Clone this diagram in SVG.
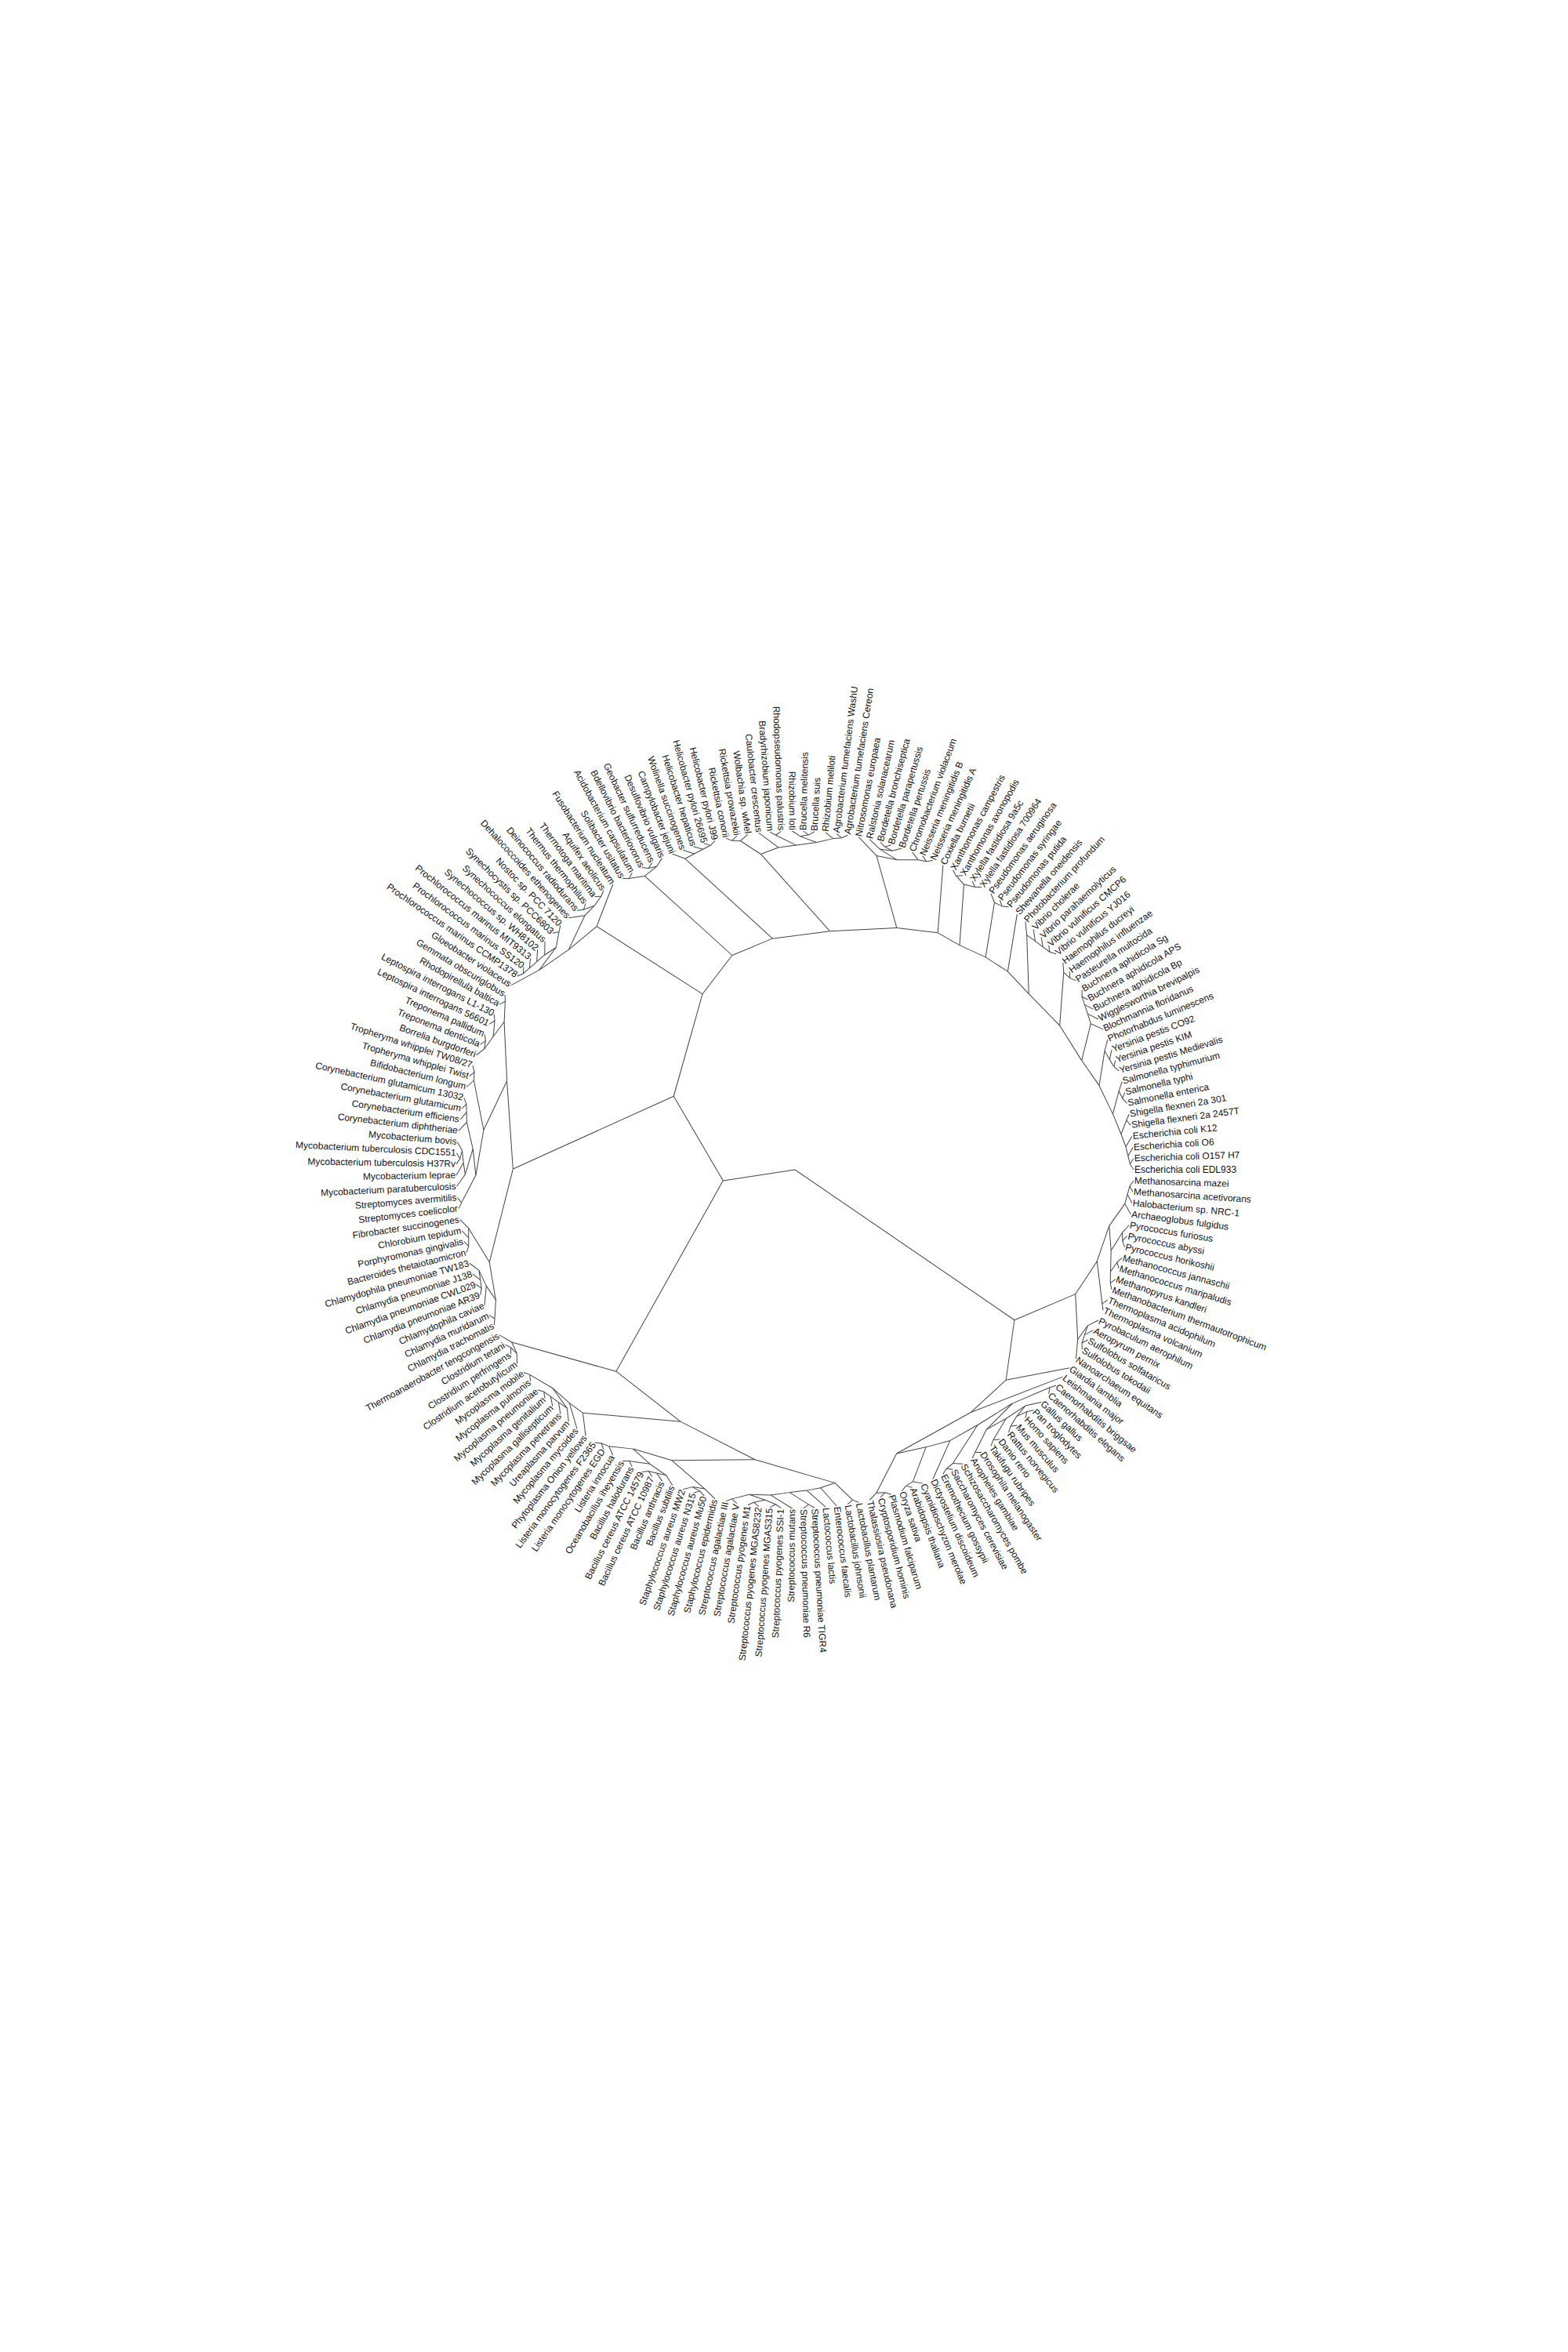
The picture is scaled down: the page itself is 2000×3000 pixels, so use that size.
<svg xmlns="http://www.w3.org/2000/svg" width="2000" height="3000" viewBox="0 0 2000 3000">
<style>
.l{font-family:"Liberation Sans",Arial,sans-serif;font-size:12px;fill:#111}
.e{text-anchor:end}
#links path{fill:none;stroke:#444;stroke-width:1}
</style>
<rect width="2000" height="3000" fill="#fff"/>
<g id="links" transform="translate(1014,1492)">
<path transform="rotate(1.885)" d="M432 0L427.4 7"/>
<path transform="rotate(3.770)" d="M432 0L427.4 -7"/>
<path transform="rotate(2.827)" d="M427.5 0L425.1 10.5"/>
<path transform="rotate(5.654)" d="M432 0L425.1 -10.5"/>
<path transform="rotate(4.241)" d="M425.2 0L422.8 12.2"/>
<path transform="rotate(7.539)" d="M432 0L422.8 -12.2"/>
<path transform="rotate(5.890)" d="M423 0L406 30.1"/>
<path transform="rotate(9.424)" d="M432 0L425.1 10.5"/>
<path transform="rotate(11.309)" d="M432 0L427.4 7"/>
<path transform="rotate(13.194)" d="M432 0L427.4 -7"/>
<path transform="rotate(12.251)" d="M427.5 0L425.1 -10.5"/>
<path transform="rotate(10.838)" d="M425.2 0L415.4 25.7"/>
<path transform="rotate(15.079)" d="M432 0L427.4 7"/>
<path transform="rotate(16.963)" d="M432 0L427.4 -7"/>
<path transform="rotate(18.848)" d="M432 0L427.4 7"/>
<path transform="rotate(20.733)" d="M432 0L427.4 -7"/>
<path transform="rotate(16.021)" d="M427.5 0L422.7 13.9"/>
<path transform="rotate(19.791)" d="M427.5 0L422.7 -13.9"/>
<path transform="rotate(17.906)" d="M423 0L415.4 -25.7"/>
<path transform="rotate(14.372)" d="M416.2 0L406 -30.1"/>
<path transform="rotate(10.131)" d="M407.1 0L399.8 47.1"/>
<path transform="rotate(22.618)" d="M432 0L427.4 7"/>
<path transform="rotate(24.503)" d="M432 0L427.4 -7"/>
<path transform="rotate(23.560)" d="M427.5 0L399.8 -47.1"/>
<path transform="rotate(16.846)" d="M402.6 0L388.3 48.2"/>
<path transform="rotate(30.157)" d="M432 0L427.4 7"/>
<path transform="rotate(32.042)" d="M432 0L427.4 -7"/>
<path transform="rotate(28.272)" d="M432 0L425.1 10.5"/>
<path transform="rotate(31.099)" d="M427.5 0L425.1 -10.5"/>
<path transform="rotate(26.387)" d="M432 0L422.8 12.2"/>
<path transform="rotate(29.686)" d="M425.2 0L422.8 -12.2"/>
<path transform="rotate(28.037)" d="M423 0L420.1 21.6"/>
<path transform="rotate(33.927)" d="M432 0L420.1 -21.6"/>
<path transform="rotate(30.982)" d="M420.7 0L388.3 -48.2"/>
<path transform="rotate(23.914)" d="M391.3 0L333.6 61.8"/>
<path transform="rotate(39.581)" d="M432 0L427.4 7"/>
<path transform="rotate(41.466)" d="M432 0L427.4 -7"/>
<path transform="rotate(45.236)" d="M432 0L427.4 7"/>
<path transform="rotate(47.120)" d="M432 0L427.4 -7"/>
<path transform="rotate(49.005)" d="M432 0L427.4 7"/>
<path transform="rotate(50.890)" d="M432 0L427.4 -7"/>
<path transform="rotate(46.178)" d="M427.5 0L422.7 13.9"/>
<path transform="rotate(49.948)" d="M427.5 0L422.7 -13.9"/>
<path transform="rotate(43.351)" d="M432 0L420.3 17.3"/>
<path transform="rotate(48.063)" d="M423 0L420.3 -17.3"/>
<path transform="rotate(52.775)" d="M432 0L427.4 7"/>
<path transform="rotate(54.660)" d="M432 0L427.4 -7"/>
<path transform="rotate(45.707)" d="M420.7 0L415.2 29.1"/>
<path transform="rotate(53.717)" d="M427.5 0L415.2 -29.1"/>
<path transform="rotate(56.545)" d="M432 0L427.4 7"/>
<path transform="rotate(58.429)" d="M432 0L427.4 -7"/>
<path transform="rotate(49.712)" d="M416.2 0L410.7 27.9"/>
<path transform="rotate(57.487)" d="M427.5 0L410.7 -27.9"/>
<path transform="rotate(40.524)" d="M427.5 0L404.5 46.4"/>
<path transform="rotate(53.600)" d="M411.6 0L404.5 -46.4"/>
<path transform="rotate(62.199)" d="M432 0L427.4 7"/>
<path transform="rotate(64.084)" d="M432 0L427.4 -7"/>
<path transform="rotate(60.314)" d="M432 0L425.1 10.5"/>
<path transform="rotate(63.141)" d="M427.5 0L425.1 -10.5"/>
<path transform="rotate(47.061)" d="M407.1 0L397.1 51.1"/>
<path transform="rotate(61.728)" d="M425.2 0L397.1 -51.1"/>
<path transform="rotate(54.394)" d="M400.3 0L396 40.1"/>
<path transform="rotate(65.969)" d="M432 0L396 -40.1"/>
<path transform="rotate(69.738)" d="M432 0L427.4 7"/>
<path transform="rotate(71.623)" d="M432 0L427.4 -7"/>
<path transform="rotate(67.853)" d="M432 0L425.1 10.5"/>
<path transform="rotate(70.681)" d="M427.5 0L425.1 -10.5"/>
<path transform="rotate(60.182)" d="M398.1 0L390.1 31"/>
<path transform="rotate(69.267)" d="M425.2 0L390.1 -31"/>
<path transform="rotate(73.508)" d="M432 0L427.4 7"/>
<path transform="rotate(75.393)" d="M432 0L427.4 -7"/>
<path transform="rotate(74.450)" d="M427.5 0L425.1 10.5"/>
<path transform="rotate(77.277)" d="M432 0L425.1 -10.5"/>
<path transform="rotate(64.724)" d="M391.3 0L382.7 37.3"/>
<path transform="rotate(75.864)" d="M425.2 0L382.7 -37.3"/>
<path transform="rotate(70.294)" d="M384.5 0L366.9 -107.3"/>
<path transform="rotate(37.696)" d="M432 0L366.9 107.3"/>
<path transform="rotate(53.996)" d="M382.2 0L375.2 -60.1"/>
<path transform="rotate(35.812)" d="M432 0L375.2 60.1"/>
<path transform="rotate(44.903)" d="M380 0L333.6 -61.8"/>
<path transform="rotate(34.409)" d="M339.3 0L0 0"/>
<path transform="rotate(79.162)" d="M432 0L427.4 7"/>
<path transform="rotate(81.047)" d="M432 0L427.4 -7"/>
<path transform="rotate(86.702)" d="M432 0L427.4 7"/>
<path transform="rotate(88.586)" d="M432 0L427.4 -7"/>
<path transform="rotate(92.356)" d="M432 0L427.4 7"/>
<path transform="rotate(94.241)" d="M432 0L427.4 -7"/>
<path transform="rotate(96.126)" d="M432 0L427.4 7"/>
<path transform="rotate(98.010)" d="M432 0L427.4 -7"/>
<path transform="rotate(99.895)" d="M432 0L427.4 7"/>
<path transform="rotate(101.780)" d="M432 0L427.4 -7"/>
<path transform="rotate(93.298)" d="M427.5 0L422.7 13.9"/>
<path transform="rotate(97.068)" d="M427.5 0L422.7 -13.9"/>
<path transform="rotate(95.183)" d="M423 0L417.9 20.6"/>
<path transform="rotate(100.838)" d="M427.5 0L417.9 -20.6"/>
<path transform="rotate(90.471)" d="M432 0L415.3 27.4"/>
<path transform="rotate(98.010)" d="M418.4 0L415.3 -27.4"/>
<path transform="rotate(87.644)" d="M427.5 0L411 23.7"/>
<path transform="rotate(94.241)" d="M416.2 0L411 -23.7"/>
<path transform="rotate(84.817)" d="M432 0L408.8 21.9"/>
<path transform="rotate(90.942)" d="M411.6 0L408.8 -21.9"/>
<path transform="rotate(82.932)" d="M432 0L406.7 17.6"/>
<path transform="rotate(87.880)" d="M409.4 0L406.7 -17.6"/>
<path transform="rotate(80.105)" d="M427.5 0L402.2 18.6"/>
<path transform="rotate(85.406)" d="M407.1 0L402.2 -18.6"/>
<path transform="rotate(105.550)" d="M432 0L427.4 7"/>
<path transform="rotate(107.435)" d="M432 0L427.4 -7"/>
<path transform="rotate(106.492)" d="M427.5 0L425.1 10.5"/>
<path transform="rotate(109.319)" d="M432 0L425.1 -10.5"/>
<path transform="rotate(103.665)" d="M432 0L422.7 15.7"/>
<path transform="rotate(107.906)" d="M425.2 0L422.7 -15.7"/>
<path transform="rotate(114.974)" d="M432 0L427.4 7"/>
<path transform="rotate(116.859)" d="M432 0L427.4 -7"/>
<path transform="rotate(113.089)" d="M432 0L425.1 10.5"/>
<path transform="rotate(115.916)" d="M427.5 0L425.1 -10.5"/>
<path transform="rotate(111.204)" d="M432 0L422.8 12.2"/>
<path transform="rotate(114.503)" d="M425.2 0L422.8 -12.2"/>
<path transform="rotate(118.743)" d="M432 0L427.4 7"/>
<path transform="rotate(120.628)" d="M432 0L427.4 -7"/>
<path transform="rotate(112.853)" d="M423 0L417.7 24.9"/>
<path transform="rotate(119.686)" d="M427.5 0L417.7 -24.9"/>
<path transform="rotate(124.398)" d="M432 0L427.4 7"/>
<path transform="rotate(126.283)" d="M432 0L427.4 -7"/>
<path transform="rotate(122.513)" d="M432 0L425.1 10.5"/>
<path transform="rotate(125.340)" d="M427.5 0L425.1 -10.5"/>
<path transform="rotate(116.270)" d="M418.4 0L410.7 27.5"/>
<path transform="rotate(123.927)" d="M425.2 0L410.7 -27.5"/>
<path transform="rotate(105.785)" d="M423 0L399.5 50.2"/>
<path transform="rotate(120.099)" d="M411.6 0L399.5 -50.2"/>
<path transform="rotate(82.756)" d="M402.6 0L360.3 97.2"/>
<path transform="rotate(112.942)" d="M402.6 0L360.3 -97.2"/>
<path transform="rotate(137.592)" d="M432 0L427.4 7"/>
<path transform="rotate(139.476)" d="M432 0L427.4 -7"/>
<path transform="rotate(135.707)" d="M432 0L425.1 10.5"/>
<path transform="rotate(138.534)" d="M427.5 0L425.1 -10.5"/>
<path transform="rotate(133.822)" d="M432 0L422.8 12.2"/>
<path transform="rotate(137.120)" d="M425.2 0L422.8 -12.2"/>
<path transform="rotate(131.937)" d="M432 0L420.5 13"/>
<path transform="rotate(135.471)" d="M423 0L420.5 -13"/>
<path transform="rotate(141.361)" d="M432 0L427.4 7"/>
<path transform="rotate(143.246)" d="M432 0L427.4 -7"/>
<path transform="rotate(133.704)" d="M420.7 0L415 31.2"/>
<path transform="rotate(142.304)" d="M427.5 0L415 -31.2"/>
<path transform="rotate(130.052)" d="M432 0L412.9 28.7"/>
<path transform="rotate(138.005)" d="M416.2 0L412.9 -28.7"/>
<path transform="rotate(128.168)" d="M432 0L411.1 21"/>
<path transform="rotate(134.028)" d="M413.9 0L411.1 -21"/>
<path transform="rotate(97.848)" d="M373.2 0L338.1 101"/>
<path transform="rotate(131.097)" d="M411.6 0L338.1 -101"/>
<path transform="rotate(147.016)" d="M432 0L427.4 7"/>
<path transform="rotate(148.901)" d="M432 0L427.4 -7"/>
<path transform="rotate(145.131)" d="M432 0L425.1 10.5"/>
<path transform="rotate(147.958)" d="M427.5 0L425.1 -10.5"/>
<path transform="rotate(146.544)" d="M425.2 0L422.7 15.7"/>
<path transform="rotate(150.785)" d="M432 0L422.7 -15.7"/>
<path transform="rotate(114.473)" d="M352.8 0L328.6 101.1"/>
<path transform="rotate(148.665)" d="M423 0L328.6 -101.1"/>
<path transform="rotate(131.569)" d="M343.8 0L71.2 59.4"/>
<path transform="rotate(171.388)" d="M92.7 0L0 0"/>
<path transform="rotate(158.325)" d="M432 0L427.4 7"/>
<path transform="rotate(160.209)" d="M432 0L427.4 -7"/>
<path transform="rotate(159.267)" d="M427.5 0L425.1 10.5"/>
<path transform="rotate(162.094)" d="M432 0L425.1 -10.5"/>
<path transform="rotate(160.681)" d="M425.2 0L422.8 12.2"/>
<path transform="rotate(163.979)" d="M432 0L422.8 -12.2"/>
<path transform="rotate(156.440)" d="M432 0L420.1 21.6"/>
<path transform="rotate(162.330)" d="M423 0L420.1 -21.6"/>
<path transform="rotate(152.670)" d="M432 0L427.4 7"/>
<path transform="rotate(154.555)" d="M432 0L427.4 -7"/>
<path transform="rotate(153.613)" d="M427.5 0L415.6 21"/>
<path transform="rotate(159.385)" d="M420.7 0L415.6 -21"/>
<path transform="rotate(165.864)" d="M432 0L427.4 7"/>
<path transform="rotate(167.749)" d="M432 0L427.4 -7"/>
<path transform="rotate(166.806)" d="M427.5 0L425.1 10.5"/>
<path transform="rotate(169.634)" d="M432 0L425.1 -10.5"/>
<path transform="rotate(168.220)" d="M425.2 0L422.8 12.2"/>
<path transform="rotate(171.518)" d="M432 0L422.8 -12.2"/>
<path transform="rotate(156.499)" d="M416.2 0L404.4 47.4"/>
<path transform="rotate(169.869)" d="M423 0L404.4 -47.4"/>
<path transform="rotate(173.403)" d="M432 0L427.4 7"/>
<path transform="rotate(175.288)" d="M432 0L427.4 -7"/>
<path transform="rotate(180.942)" d="M432 0L427.4 7"/>
<path transform="rotate(182.827)" d="M432 0L427.4 -7"/>
<path transform="rotate(181.885)" d="M427.5 0L425.1 10.5"/>
<path transform="rotate(184.712)" d="M432 0L425.1 -10.5"/>
<path transform="rotate(179.058)" d="M432 0L422.7 15.7"/>
<path transform="rotate(183.299)" d="M425.2 0L422.7 -15.7"/>
<path transform="rotate(177.173)" d="M432 0L420.4 14.7"/>
<path transform="rotate(181.177)" d="M423 0L420.4 -14.7"/>
<path transform="rotate(190.366)" d="M432 0L427.4 7"/>
<path transform="rotate(192.251)" d="M432 0L427.4 -7"/>
<path transform="rotate(188.482)" d="M432 0L425.1 10.5"/>
<path transform="rotate(191.309)" d="M427.5 0L425.1 -10.5"/>
<path transform="rotate(186.597)" d="M432 0L422.8 12.2"/>
<path transform="rotate(189.894)" d="M425.2 0L422.8 -12.2"/>
<path transform="rotate(179.176)" d="M420.7 0L410.4 32.6"/>
<path transform="rotate(188.247)" d="M423 0L410.4 -32.6"/>
<path transform="rotate(174.346)" d="M427.5 0L405.8 33.2"/>
<path transform="rotate(183.710)" d="M411.6 0L405.8 -33.2"/>
<path transform="rotate(196.021)" d="M432 0L427.4 7"/>
<path transform="rotate(197.906)" d="M432 0L427.4 -7"/>
<path transform="rotate(194.136)" d="M432 0L425.1 10.5"/>
<path transform="rotate(196.963)" d="M427.5 0L425.1 -10.5"/>
<path transform="rotate(179.028)" d="M407.1 0L396.2 57.5"/>
<path transform="rotate(195.550)" d="M425.2 0L396.2 -57.5"/>
<path transform="rotate(201.675)" d="M432 0L427.4 7"/>
<path transform="rotate(203.560)" d="M432 0L427.4 -7"/>
<path transform="rotate(199.791)" d="M432 0L425.1 10.5"/>
<path transform="rotate(202.618)" d="M427.5 0L425.1 -10.5"/>
<path transform="rotate(205.445)" d="M432 0L427.4 7"/>
<path transform="rotate(207.330)" d="M432 0L427.4 -7"/>
<path transform="rotate(201.204)" d="M425.2 0L420.3 19"/>
<path transform="rotate(206.387)" d="M427.5 0L420.3 -19"/>
<path transform="rotate(209.215)" d="M432 0L427.4 7"/>
<path transform="rotate(211.099)" d="M432 0L427.4 -7"/>
<path transform="rotate(203.796)" d="M420.7 0L415.5 23.1"/>
<path transform="rotate(210.157)" d="M427.5 0L415.5 -23.1"/>
<path transform="rotate(187.290)" d="M400.3 0L378.8 65.7"/>
<path transform="rotate(206.978)" d="M416.2 0L378.8 -65.7"/>
<path transform="rotate(163.184)" d="M407.1 0L344 105"/>
<path transform="rotate(197.132)" d="M384.5 0L344 -105"/>
<path transform="rotate(180.160)" d="M359.6 0L155 93.3"/>
<path transform="rotate(214.869)" d="M432 0L427.4 7"/>
<path transform="rotate(216.754)" d="M432 0L427.4 -7"/>
<path transform="rotate(215.812)" d="M427.5 0L425.1 10.5"/>
<path transform="rotate(218.639)" d="M432 0L425.1 -10.5"/>
<path transform="rotate(217.225)" d="M425.2 0L422.8 12.2"/>
<path transform="rotate(220.524)" d="M432 0L422.8 -12.2"/>
<path transform="rotate(218.875)" d="M423 0L420.5 13"/>
<path transform="rotate(222.408)" d="M432 0L420.5 -13"/>
<path transform="rotate(224.293)" d="M432 0L427.4 7"/>
<path transform="rotate(226.178)" d="M432 0L427.4 -7"/>
<path transform="rotate(220.642)" d="M420.7 0L415.8 16.7"/>
<path transform="rotate(225.235)" d="M427.5 0L415.8 -16.7"/>
<path transform="rotate(212.984)" d="M432 0L412.4 35.9"/>
<path transform="rotate(222.938)" d="M416.2 0L412.4 -35.9"/>
<path transform="rotate(229.948)" d="M432 0L427.4 7"/>
<path transform="rotate(231.832)" d="M432 0L427.4 -7"/>
<path transform="rotate(233.717)" d="M432 0L427.4 7"/>
<path transform="rotate(235.602)" d="M432 0L427.4 -7"/>
<path transform="rotate(230.890)" d="M427.5 0L422.7 13.9"/>
<path transform="rotate(234.660)" d="M427.5 0L422.7 -13.9"/>
<path transform="rotate(228.063)" d="M432 0L420.3 17.3"/>
<path transform="rotate(232.775)" d="M423 0L420.3 -17.3"/>
<path transform="rotate(217.961)" d="M413.9 0L400.2 43.7"/>
<path transform="rotate(230.419)" d="M420.7 0L400.2 -43.7"/>
<path transform="rotate(224.190)" d="M402.6 0L397.7 46.4"/>
<path transform="rotate(237.487)" d="M432 0L397.7 -46.4"/>
<path transform="rotate(239.372)" d="M432 0L427.4 7"/>
<path transform="rotate(241.257)" d="M432 0L427.4 -7"/>
<path transform="rotate(243.141)" d="M432 0L427.4 7"/>
<path transform="rotate(245.026)" d="M432 0L427.4 -7"/>
<path transform="rotate(244.084)" d="M427.5 0L425.1 10.5"/>
<path transform="rotate(246.911)" d="M432 0L425.1 -10.5"/>
<path transform="rotate(240.314)" d="M427.5 0L420.3 19"/>
<path transform="rotate(245.497)" d="M425.2 0L420.3 -19"/>
<path transform="rotate(254.450)" d="M432 0L427.4 7"/>
<path transform="rotate(256.335)" d="M432 0L427.4 -7"/>
<path transform="rotate(252.565)" d="M432 0L425.1 10.5"/>
<path transform="rotate(255.393)" d="M427.5 0L425.1 -10.5"/>
<path transform="rotate(250.681)" d="M432 0L422.8 12.2"/>
<path transform="rotate(253.979)" d="M425.2 0L422.8 -12.2"/>
<path transform="rotate(248.796)" d="M432 0L420.5 13"/>
<path transform="rotate(252.330)" d="M423 0L420.5 -13"/>
<path transform="rotate(258.220)" d="M432 0L427.4 7"/>
<path transform="rotate(260.105)" d="M432 0L427.4 -7"/>
<path transform="rotate(259.162)" d="M427.5 0L425.1 10.5"/>
<path transform="rotate(261.990)" d="M432 0L425.1 -10.5"/>
<path transform="rotate(265.759)" d="M432 0L427.4 7"/>
<path transform="rotate(267.644)" d="M432 0L427.4 -7"/>
<path transform="rotate(271.414)" d="M432 0L427.4 7"/>
<path transform="rotate(273.298)" d="M432 0L427.4 -7"/>
<path transform="rotate(269.529)" d="M432 0L425.1 10.5"/>
<path transform="rotate(272.356)" d="M427.5 0L425.1 -10.5"/>
<path transform="rotate(277.068)" d="M432 0L427.4 7"/>
<path transform="rotate(278.953)" d="M432 0L427.4 -7"/>
<path transform="rotate(275.183)" d="M432 0L425.1 10.5"/>
<path transform="rotate(278.010)" d="M427.5 0L425.1 -10.5"/>
<path transform="rotate(270.942)" d="M425.2 0L417.9 20.6"/>
<path transform="rotate(276.597)" d="M425.2 0L417.9 -20.6"/>
<path transform="rotate(266.701)" d="M427.5 0L413.1 25.5"/>
<path transform="rotate(273.770)" d="M418.4 0L413.1 -25.5"/>
<path transform="rotate(263.874)" d="M432 0L411 22.8"/>
<path transform="rotate(270.236)" d="M413.9 0L411 -22.8"/>
<path transform="rotate(260.576)" d="M425.2 0L404.2 22.9"/>
<path transform="rotate(267.054)" d="M411.6 0L404.2 -22.9"/>
<path transform="rotate(284.607)" d="M432 0L427.4 7"/>
<path transform="rotate(286.492)" d="M432 0L427.4 -7"/>
<path transform="rotate(285.550)" d="M427.5 0L425.1 10.5"/>
<path transform="rotate(288.377)" d="M432 0L425.1 -10.5"/>
<path transform="rotate(282.723)" d="M432 0L422.7 15.7"/>
<path transform="rotate(286.963)" d="M425.2 0L422.7 -15.7"/>
<path transform="rotate(292.147)" d="M432 0L427.4 7"/>
<path transform="rotate(294.031)" d="M432 0L427.4 -7"/>
<path transform="rotate(290.262)" d="M432 0L425.1 10.5"/>
<path transform="rotate(293.089)" d="M427.5 0L425.1 -10.5"/>
<path transform="rotate(284.843)" d="M423 0L415.4 24.8"/>
<path transform="rotate(291.675)" d="M425.2 0L415.4 -24.8"/>
<path transform="rotate(280.838)" d="M432 0L413 26.8"/>
<path transform="rotate(288.259)" d="M416.2 0L413 -26.8"/>
<path transform="rotate(358.115)" d="M432 0L427.4 7"/>
<path d="M432 0L427.4 -7"/>
<path transform="rotate(356.230)" d="M432 0L425.1 10.5"/>
<path transform="rotate(359.058)" d="M427.5 0L425.1 -10.5"/>
<path transform="rotate(354.346)" d="M432 0L422.8 12.2"/>
<path transform="rotate(357.644)" d="M425.2 0L422.8 -12.2"/>
<path transform="rotate(350.576)" d="M432 0L427.4 7"/>
<path transform="rotate(352.461)" d="M432 0L427.4 -7"/>
<path transform="rotate(351.518)" d="M427.5 0L418.1 16.3"/>
<path transform="rotate(355.995)" d="M423 0L418.1 -16.3"/>
<path transform="rotate(346.806)" d="M432 0L427.4 7"/>
<path transform="rotate(348.691)" d="M432 0L427.4 -7"/>
<path transform="rotate(344.921)" d="M432 0L425.1 10.5"/>
<path transform="rotate(347.749)" d="M427.5 0L425.1 -10.5"/>
<path transform="rotate(346.335)" d="M425.2 0L410.8 26.6"/>
<path transform="rotate(353.757)" d="M418.4 0L410.8 -26.6"/>
<path transform="rotate(341.152)" d="M432 0L427.4 7"/>
<path transform="rotate(343.037)" d="M432 0L427.4 -7"/>
<path transform="rotate(339.267)" d="M432 0L425.1 10.5"/>
<path transform="rotate(342.094)" d="M427.5 0L425.1 -10.5"/>
<path transform="rotate(337.382)" d="M432 0L422.8 12.2"/>
<path transform="rotate(340.681)" d="M425.2 0L422.8 -12.2"/>
<path transform="rotate(339.031)" d="M423 0L400.7 38.6"/>
<path transform="rotate(350.046)" d="M411.6 0L400.7 -38.6"/>
<path transform="rotate(327.958)" d="M432 0L427.4 7"/>
<path transform="rotate(329.843)" d="M432 0L427.4 -7"/>
<path transform="rotate(328.901)" d="M427.5 0L425.1 10.5"/>
<path transform="rotate(331.728)" d="M432 0L425.1 -10.5"/>
<path transform="rotate(330.314)" d="M425.2 0L422.8 12.2"/>
<path transform="rotate(333.613)" d="M432 0L422.8 -12.2"/>
<path transform="rotate(331.963)" d="M423 0L420.5 13"/>
<path transform="rotate(335.497)" d="M432 0L420.5 -13"/>
<path transform="rotate(333.731)" d="M420.7 0L389.6 36.9"/>
<path transform="rotate(344.536)" d="M402.6 0L389.6 -36.9"/>
<path transform="rotate(324.188)" d="M432 0L427.4 7"/>
<path transform="rotate(326.073)" d="M432 0L427.4 -7"/>
<path transform="rotate(322.304)" d="M432 0L425.1 10.5"/>
<path transform="rotate(325.131)" d="M427.5 0L425.1 -10.5"/>
<path transform="rotate(323.717)" d="M425.2 0L381 51.6"/>
<path transform="rotate(339.134)" d="M391.3 0L381 -51.6"/>
<path transform="rotate(318.534)" d="M432 0L427.4 7"/>
<path transform="rotate(320.419)" d="M432 0L427.4 -7"/>
<path transform="rotate(316.649)" d="M432 0L425.1 10.5"/>
<path transform="rotate(319.476)" d="M427.5 0L425.1 -10.5"/>
<path transform="rotate(314.764)" d="M432 0L422.8 12.2"/>
<path transform="rotate(318.063)" d="M425.2 0L422.8 -12.2"/>
<path transform="rotate(312.880)" d="M432 0L420.5 13"/>
<path transform="rotate(316.414)" d="M423 0L420.5 -13"/>
<path transform="rotate(314.647)" d="M420.7 0L369.2 54.5"/>
<path transform="rotate(331.426)" d="M384.5 0L369.2 -54.5"/>
<path transform="rotate(310.995)" d="M432 0L368.9 38.9"/>
<path transform="rotate(323.036)" d="M373.2 0L368.9 -38.9"/>
<path transform="rotate(307.225)" d="M432 0L427.4 7"/>
<path transform="rotate(309.110)" d="M432 0L427.4 -7"/>
<path transform="rotate(305.340)" d="M432 0L425.1 10.5"/>
<path transform="rotate(308.167)" d="M427.5 0L425.1 -10.5"/>
<path transform="rotate(306.754)" d="M425.2 0L362.7 32.6"/>
<path transform="rotate(317.016)" d="M370.9 0L362.7 -32.6"/>
<path transform="rotate(297.801)" d="M432 0L427.4 7"/>
<path transform="rotate(299.686)" d="M432 0L427.4 -7"/>
<path transform="rotate(301.571)" d="M432 0L427.4 7"/>
<path transform="rotate(303.455)" d="M432 0L427.4 -7"/>
<path transform="rotate(298.743)" d="M427.5 0L422.7 13.9"/>
<path transform="rotate(302.513)" d="M427.5 0L422.7 -13.9"/>
<path transform="rotate(300.628)" d="M423 0L353.4 34.8"/>
<path transform="rotate(311.884)" d="M364.2 0L353.4 -34.8"/>
<path transform="rotate(295.916)" d="M432 0L351.4 31.8"/>
<path transform="rotate(306.256)" d="M355.1 0L351.4 -31.8"/>
<path transform="rotate(284.549)" d="M413.9 0L331.3 48.1"/>
<path transform="rotate(301.087)" d="M352.8 0L331.3 -48.1"/>
<path transform="rotate(263.815)" d="M404.9 0L297.8 77"/>
<path transform="rotate(292.818)" d="M334.7 0L297.8 -77"/>
<path transform="rotate(250.563)" d="M420.7 0L287.6 71.1"/>
<path transform="rotate(278.316)" d="M307.6 0L287.6 -71.1"/>
<path transform="rotate(242.906)" d="M420.7 0L280 53.2"/>
<path transform="rotate(264.440)" d="M296.3 0L280 -53.2"/>
<path transform="rotate(230.838)" d="M400.3 0L248.3 50.1"/>
<path transform="rotate(253.673)" d="M285 0L248.3 -50.1"/>
<path transform="rotate(242.256)" d="M253.3 0L155 -93.3"/>
<path transform="rotate(211.207)" d="M180.9 0L71.2 -59.4"/>
</g>
<g id="labels" transform="translate(1014,1492)">
<g id="n1"><text class="l" dy="0.3em" transform="rotate(1.885) translate(433)">Methanosarcina mazei</text></g>
<g id="n2"><text class="l" dy="0.3em" transform="rotate(3.770) translate(433)">Methanosarcina acetivorans</text></g>
<g id="n3"><text class="l" dy="0.3em" transform="rotate(5.654) translate(433)">Halobacterium sp. NRC-1</text></g>
<g id="n4"><text class="l" dy="0.3em" transform="rotate(7.539) translate(433)">Archaeoglobus fulgidus</text></g>
<g id="n5"><text class="l" dy="0.3em" transform="rotate(9.424) translate(433)">Pyrococcus furiosus</text></g>
<g id="n6"><text class="l" dy="0.3em" transform="rotate(11.309) translate(433)">Pyrococcus abyssi</text></g>
<g id="n7"><text class="l" dy="0.3em" transform="rotate(13.194) translate(433)">Pyrococcus horikoshii</text></g>
<g id="n8"><text class="l" dy="0.3em" transform="rotate(15.079) translate(433)">Methanococcus jannaschii</text></g>
<g id="n9"><text class="l" dy="0.3em" transform="rotate(16.963) translate(433)">Methanococcus maripaludis</text></g>
<g id="n10"><text class="l" dy="0.3em" transform="rotate(18.848) translate(433)">Methanopyrus kandleri</text></g>
<g id="n11"><text class="l" dy="0.3em" transform="rotate(20.733) translate(433)">Methanobacterium thermautotrophicum</text></g>
<g id="n12"><text class="l" dy="0.3em" transform="rotate(22.618) translate(433)">Thermoplasma acidophilum</text></g>
<g id="n13"><text class="l" dy="0.3em" transform="rotate(24.503) translate(433)">Thermoplasma volcanium</text></g>
<g id="n14"><text class="l" dy="0.3em" transform="rotate(26.387) translate(433)">Pyrobaculum aerophilum</text></g>
<g id="n15"><text class="l" dy="0.3em" transform="rotate(28.272) translate(433)">Aeropyrum pernix</text></g>
<g id="n16"><text class="l" dy="0.3em" transform="rotate(30.157) translate(433)">Sulfolobus solfataricus</text></g>
<g id="n17"><text class="l" dy="0.3em" transform="rotate(32.042) translate(433)">Sulfolobus tokodaii</text></g>
<g id="n18"><text class="l" dy="0.3em" transform="rotate(33.927) translate(433)">Nanoarchaeum equitans</text></g>
<g id="n19"><text class="l" dy="0.3em" transform="rotate(35.812) translate(433)">Giardia lamblia</text></g>
<g id="n20"><text class="l" dy="0.3em" transform="rotate(37.696) translate(433)">Leishmania major</text></g>
<g id="n21"><text class="l" dy="0.3em" transform="rotate(39.581) translate(433)">Caenorhabditis briggsae</text></g>
<g id="n22"><text class="l" dy="0.3em" transform="rotate(41.466) translate(433)">Caenorhabditis elegans</text></g>
<g id="n23"><text class="l" dy="0.3em" transform="rotate(43.351) translate(433)">Gallus gallus</text></g>
<g id="n24"><text class="l" dy="0.3em" transform="rotate(45.236) translate(433)">Pan troglodytes</text></g>
<g id="n25"><text class="l" dy="0.3em" transform="rotate(47.120) translate(433)">Homo sapiens</text></g>
<g id="n26"><text class="l" dy="0.3em" transform="rotate(49.005) translate(433)">Mus musculus</text></g>
<g id="n27"><text class="l" dy="0.3em" transform="rotate(50.890) translate(433)">Rattus norvegicus</text></g>
<g id="n28"><text class="l" dy="0.3em" transform="rotate(52.775) translate(433)">Danio rerio</text></g>
<g id="n29"><text class="l" dy="0.3em" transform="rotate(54.660) translate(433)">Takifugu rubripes</text></g>
<g id="n30"><text class="l" dy="0.3em" transform="rotate(56.545) translate(433)">Drosophila melanogaster</text></g>
<g id="n31"><text class="l" dy="0.3em" transform="rotate(58.429) translate(433)">Anopheles gambiae</text></g>
<g id="n32"><text class="l" dy="0.3em" transform="rotate(60.314) translate(433)">Schizosaccharomyces pombe</text></g>
<g id="n33"><text class="l" dy="0.3em" transform="rotate(62.199) translate(433)">Saccharomyces cerevisiae</text></g>
<g id="n34"><text class="l" dy="0.3em" transform="rotate(64.084) translate(433)">Eremothecium gossypii</text></g>
<g id="n35"><text class="l" dy="0.3em" transform="rotate(65.969) translate(433)">Dictyostelium discoideum</text></g>
<g id="n36"><text class="l" dy="0.3em" transform="rotate(67.853) translate(433)">Cyanidioschyzon merolae</text></g>
<g id="n37"><text class="l" dy="0.3em" transform="rotate(69.738) translate(433)">Arabidopsis thaliana</text></g>
<g id="n38"><text class="l" dy="0.3em" transform="rotate(71.623) translate(433)">Oryza sativa</text></g>
<g id="n39"><text class="l" dy="0.3em" transform="rotate(73.508) translate(433)">Plasmodium falciparum</text></g>
<g id="n40"><text class="l" dy="0.3em" transform="rotate(75.393) translate(433)">Cryptosporidium hominis</text></g>
<g id="n41"><text class="l" dy="0.3em" transform="rotate(77.277) translate(433)">Thalassiosira pseudonana</text></g>
<g id="n42"><text class="l" dy="0.3em" transform="rotate(79.162) translate(433)">Lactobacillus plantarum</text></g>
<g id="n43"><text class="l" dy="0.3em" transform="rotate(81.047) translate(433)">Lactobacillus johnsonii</text></g>
<g id="n44"><text class="l" dy="0.3em" transform="rotate(82.932) translate(433)">Enterococcus faecalis</text></g>
<g id="n45"><text class="l" dy="0.3em" transform="rotate(84.817) translate(433)">Lactococcus lactis</text></g>
<g id="n46"><text class="l" dy="0.3em" transform="rotate(86.702) translate(433)">Streptococcus pneumoniae TIGR4</text></g>
<g id="n47"><text class="l" dy="0.3em" transform="rotate(88.586) translate(433)">Streptococcus pneumoniae R6</text></g>
<g id="n48"><text class="l e" dy="0.3em" transform="rotate(-89.529) translate(-433)">Streptococcus mutans</text></g>
<g id="n49"><text class="l e" dy="0.3em" transform="rotate(-87.644) translate(-433)">Streptococcus pyogenes SSI-1</text></g>
<g id="n50"><text class="l e" dy="0.3em" transform="rotate(-85.759) translate(-433)">Streptococcus pyogenes MGAS315</text></g>
<g id="n51"><text class="l e" dy="0.3em" transform="rotate(-83.874) translate(-433)">Streptococcus pyogenes MGAS8232</text></g>
<g id="n52"><text class="l e" dy="0.3em" transform="rotate(-81.990) translate(-433)">Streptococcus pyogenes M1</text></g>
<g id="n53"><text class="l e" dy="0.3em" transform="rotate(-80.105) translate(-433)">Streptococcus agalactiae V</text></g>
<g id="n54"><text class="l e" dy="0.3em" transform="rotate(-78.220) translate(-433)">Streptococcus agalactiae III</text></g>
<g id="n55"><text class="l e" dy="0.3em" transform="rotate(-76.335) translate(-433)">Staphylococcus epidermidis</text></g>
<g id="n56"><text class="l e" dy="0.3em" transform="rotate(-74.450) translate(-433)">Staphylococcus aureus Mu50</text></g>
<g id="n57"><text class="l e" dy="0.3em" transform="rotate(-72.565) translate(-433)">Staphylococcus aureus N315</text></g>
<g id="n58"><text class="l e" dy="0.3em" transform="rotate(-70.681) translate(-433)">Staphylococcus aureus MW2</text></g>
<g id="n59"><text class="l e" dy="0.3em" transform="rotate(-68.796) translate(-433)">Bacillus subtilis</text></g>
<g id="n60"><text class="l e" dy="0.3em" transform="rotate(-66.911) translate(-433)">Bacillus anthracis</text></g>
<g id="n61"><text class="l e" dy="0.3em" transform="rotate(-65.026) translate(-433)">Bacillus cereus ATCC 10987</text></g>
<g id="n62"><text class="l e" dy="0.3em" transform="rotate(-63.141) translate(-433)">Bacillus cereus ATCC 14579</text></g>
<g id="n63"><text class="l e" dy="0.3em" transform="rotate(-61.257) translate(-433)">Bacillus halodurans</text></g>
<g id="n64"><text class="l e" dy="0.3em" transform="rotate(-59.372) translate(-433)">Oceanobacillus iheyensis</text></g>
<g id="n65"><text class="l e" dy="0.3em" transform="rotate(-57.487) translate(-433)">Listeria innocua</text></g>
<g id="n66"><text class="l e" dy="0.3em" transform="rotate(-55.602) translate(-433)">Listeria monocytogenes EGD</text></g>
<g id="n67"><text class="l e" dy="0.3em" transform="rotate(-53.717) translate(-433)">Listeria monocytogenes F2365</text></g>
<g id="n68"><text class="l e" dy="0.3em" transform="rotate(-51.832) translate(-433)">Phytoplasma Onion yellows</text></g>
<g id="n69"><text class="l e" dy="0.3em" transform="rotate(-49.948) translate(-433)">Mycoplasma mycoides</text></g>
<g id="n70"><text class="l e" dy="0.3em" transform="rotate(-48.063) translate(-433)">Ureaplasma parvum</text></g>
<g id="n71"><text class="l e" dy="0.3em" transform="rotate(-46.178) translate(-433)">Mycoplasma penetrans</text></g>
<g id="n72"><text class="l e" dy="0.3em" transform="rotate(-44.293) translate(-433)">Mycoplasma gallisepticum</text></g>
<g id="n73"><text class="l e" dy="0.3em" transform="rotate(-42.408) translate(-433)">Mycoplasma genitalium</text></g>
<g id="n74"><text class="l e" dy="0.3em" transform="rotate(-40.524) translate(-433)">Mycoplasma pneumoniae</text></g>
<g id="n75"><text class="l e" dy="0.3em" transform="rotate(-38.639) translate(-433)">Mycoplasma pulmonis</text></g>
<g id="n76"><text class="l e" dy="0.3em" transform="rotate(-36.754) translate(-433)">Mycoplasma mobile</text></g>
<g id="n77"><text class="l e" dy="0.3em" transform="rotate(-34.869) translate(-433)">Clostridium acetobutylicum</text></g>
<g id="n78"><text class="l e" dy="0.3em" transform="rotate(-32.984) translate(-433)">Clostridium perfringens</text></g>
<g id="n79"><text class="l e" dy="0.3em" transform="rotate(-31.099) translate(-433)">Clostridium tetani</text></g>
<g id="n80"><text class="l e" dy="0.3em" transform="rotate(-29.215) translate(-433)">Thermoanaerobacter tengcongensis</text></g>
<g id="n81"><text class="l e" dy="0.3em" transform="rotate(-27.330) translate(-433)">Chlamydia trachomatis</text></g>
<g id="n82"><text class="l e" dy="0.3em" transform="rotate(-25.445) translate(-433)">Chlamydia muridarum</text></g>
<g id="n83"><text class="l e" dy="0.3em" transform="rotate(-23.560) translate(-433)">Chlamydophila caviae</text></g>
<g id="n84"><text class="l e" dy="0.3em" transform="rotate(-21.675) translate(-433)">Chlamydia pneumoniae AR39</text></g>
<g id="n85"><text class="l e" dy="0.3em" transform="rotate(-19.791) translate(-433)">Chlamydia pneumoniae CWL029</text></g>
<g id="n86"><text class="l e" dy="0.3em" transform="rotate(-17.906) translate(-433)">Chlamydia pneumoniae J138</text></g>
<g id="n87"><text class="l e" dy="0.3em" transform="rotate(-16.021) translate(-433)">Chlamydophila pneumoniae TW183</text></g>
<g id="n88"><text class="l e" dy="0.3em" transform="rotate(-14.136) translate(-433)">Bacteroides thetaiotaomicron</text></g>
<g id="n89"><text class="l e" dy="0.3em" transform="rotate(-12.251) translate(-433)">Porphyromonas gingivalis</text></g>
<g id="n90"><text class="l e" dy="0.3em" transform="rotate(-10.366) translate(-433)">Chlorobium tepidum</text></g>
<g id="n91"><text class="l e" dy="0.3em" transform="rotate(-8.482) translate(-433)">Fibrobacter succinogenes</text></g>
<g id="n92"><text class="l e" dy="0.3em" transform="rotate(-6.597) translate(-433)">Streptomyces coelicolor</text></g>
<g id="n93"><text class="l e" dy="0.3em" transform="rotate(-4.712) translate(-433)">Streptomyces avermitilis</text></g>
<g id="n94"><text class="l e" dy="0.3em" transform="rotate(-2.827) translate(-433)">Mycobacterium paratuberculosis</text></g>
<g id="n95"><text class="l e" dy="0.3em" transform="rotate(-0.942) translate(-433)">Mycobacterium leprae</text></g>
<g id="n96"><text class="l e" dy="0.3em" transform="rotate(0.942) translate(-433)">Mycobacterium tuberculosis H37Rv</text></g>
<g id="n97"><text class="l e" dy="0.3em" transform="rotate(2.827) translate(-433)">Mycobacterium tuberculosis CDC1551</text></g>
<g id="n98"><text class="l e" dy="0.3em" transform="rotate(4.712) translate(-433)">Mycobacterium bovis</text></g>
<g id="n99"><text class="l e" dy="0.3em" transform="rotate(6.597) translate(-433)">Corynebacterium diphtheriae</text></g>
<g id="n100"><text class="l e" dy="0.3em" transform="rotate(8.482) translate(-433)">Corynebacterium efficiens</text></g>
<g id="n101"><text class="l e" dy="0.3em" transform="rotate(10.366) translate(-433)">Corynebacterium glutamicum</text></g>
<g id="n102"><text class="l e" dy="0.3em" transform="rotate(12.251) translate(-433)">Corynebacterium glutamicum 13032</text></g>
<g id="n103"><text class="l e" dy="0.3em" transform="rotate(14.136) translate(-433)">Bifidobacterium longum</text></g>
<g id="n104"><text class="l e" dy="0.3em" transform="rotate(16.021) translate(-433)">Tropheryma whipplei Twist</text></g>
<g id="n105"><text class="l e" dy="0.3em" transform="rotate(17.906) translate(-433)">Tropheryma whipplei TW08/27</text></g>
<g id="n106"><text class="l e" dy="0.3em" transform="rotate(19.791) translate(-433)">Borrelia burgdorferi</text></g>
<g id="n107"><text class="l e" dy="0.3em" transform="rotate(21.675) translate(-433)">Treponema denticola</text></g>
<g id="n108"><text class="l e" dy="0.3em" transform="rotate(23.560) translate(-433)">Treponema pallidum</text></g>
<g id="n109"><text class="l e" dy="0.3em" transform="rotate(25.445) translate(-433)">Leptospira interrogans 56601</text></g>
<g id="n110"><text class="l e" dy="0.3em" transform="rotate(27.330) translate(-433)">Leptospira interrogans L1-130</text></g>
<g id="n111"><text class="l e" dy="0.3em" transform="rotate(29.215) translate(-433)">Rhodopirellula baltica</text></g>
<g id="n112"><text class="l e" dy="0.3em" transform="rotate(31.099) translate(-433)">Gemmata obscuriglobus</text></g>
<g id="n113"><text class="l e" dy="0.3em" transform="rotate(32.984) translate(-433)">Gloeobacter violaceus</text></g>
<g id="n114"><text class="l e" dy="0.3em" transform="rotate(34.869) translate(-433)">Prochlorococcus marinus CCMP1378</text></g>
<g id="n115"><text class="l e" dy="0.3em" transform="rotate(36.754) translate(-433)">Prochlorococcus marinus SS120</text></g>
<g id="n116"><text class="l e" dy="0.3em" transform="rotate(38.639) translate(-433)">Prochlorococcus marinus MIT9313</text></g>
<g id="n117"><text class="l e" dy="0.3em" transform="rotate(40.524) translate(-433)">Synechococcus sp. WH8102</text></g>
<g id="n118"><text class="l e" dy="0.3em" transform="rotate(42.408) translate(-433)">Synechococcus elongatus</text></g>
<g id="n119"><text class="l e" dy="0.3em" transform="rotate(44.293) translate(-433)">Synechocystis sp. PCC6803</text></g>
<g id="n120"><text class="l e" dy="0.3em" transform="rotate(46.178) translate(-433)">Nostoc sp. PCC 7120</text></g>
<g id="n121"><text class="l e" dy="0.3em" transform="rotate(48.063) translate(-433)">Dehalococcoides ethenogenes</text></g>
<g id="n122"><text class="l e" dy="0.3em" transform="rotate(49.948) translate(-433)">Deinococcus radiodurans</text></g>
<g id="n123"><text class="l e" dy="0.3em" transform="rotate(51.832) translate(-433)">Thermus thermophilus</text></g>
<g id="n124"><text class="l e" dy="0.3em" transform="rotate(53.717) translate(-433)">Thermotoga maritima</text></g>
<g id="n125"><text class="l e" dy="0.3em" transform="rotate(55.602) translate(-433)">Aquifex aeolicus</text></g>
<g id="n126"><text class="l e" dy="0.3em" transform="rotate(57.487) translate(-433)">Fusobacterium nucleatum</text></g>
<g id="n127"><text class="l e" dy="0.3em" transform="rotate(59.372) translate(-433)">Solibacter usitatus</text></g>
<g id="n128"><text class="l e" dy="0.3em" transform="rotate(61.257) translate(-433)">Acidobacterium capsulatum</text></g>
<g id="n129"><text class="l e" dy="0.3em" transform="rotate(63.141) translate(-433)">Bdellovibrio bacteriovorus</text></g>
<g id="n130"><text class="l e" dy="0.3em" transform="rotate(65.026) translate(-433)">Geobacter sulfurreducens</text></g>
<g id="n131"><text class="l e" dy="0.3em" transform="rotate(66.911) translate(-433)">Desulfovibrio vulgaris</text></g>
<g id="n132"><text class="l e" dy="0.3em" transform="rotate(68.796) translate(-433)">Campylobacter jejuni</text></g>
<g id="n133"><text class="l e" dy="0.3em" transform="rotate(70.681) translate(-433)">Wolinella succinogenes</text></g>
<g id="n134"><text class="l e" dy="0.3em" transform="rotate(72.565) translate(-433)">Helicobacter hepaticus</text></g>
<g id="n135"><text class="l e" dy="0.3em" transform="rotate(74.450) translate(-433)">Helicobacter pylori 26695</text></g>
<g id="n136"><text class="l e" dy="0.3em" transform="rotate(76.335) translate(-433)">Helicobacter pylori J99</text></g>
<g id="n137"><text class="l e" dy="0.3em" transform="rotate(78.220) translate(-433)">Rickettsia conorii</text></g>
<g id="n138"><text class="l e" dy="0.3em" transform="rotate(80.105) translate(-433)">Rickettsia prowazekii</text></g>
<g id="n139"><text class="l e" dy="0.3em" transform="rotate(81.990) translate(-433)">Wolbachia sp. wMel</text></g>
<g id="n140"><text class="l e" dy="0.3em" transform="rotate(83.874) translate(-433)">Caulobacter crescentus</text></g>
<g id="n141"><text class="l e" dy="0.3em" transform="rotate(85.759) translate(-433)">Bradyrhizobium japonicum</text></g>
<g id="n142"><text class="l e" dy="0.3em" transform="rotate(87.644) translate(-433)">Rhodopseudomonas palustris</text></g>
<g id="n143"><text class="l e" dy="0.3em" transform="rotate(89.529) translate(-433)">Rhizobium loti</text></g>
<g id="n144"><text class="l" dy="0.3em" transform="rotate(271.414) translate(433)">Brucella melitensis</text></g>
<g id="n145"><text class="l" dy="0.3em" transform="rotate(273.298) translate(433)">Brucella suis</text></g>
<g id="n146"><text class="l" dy="0.3em" transform="rotate(275.183) translate(433)">Rhizobium meliloti</text></g>
<g id="n147"><text class="l" dy="0.3em" transform="rotate(277.068) translate(433)">Agrobacterium tumefaciens WashU</text></g>
<g id="n148"><text class="l" dy="0.3em" transform="rotate(278.953) translate(433)">Agrobacterium tumefaciens Cereon</text></g>
<g id="n149"><text class="l" dy="0.3em" transform="rotate(280.838) translate(433)">Nitrosomonas europaea</text></g>
<g id="n150"><text class="l" dy="0.3em" transform="rotate(282.723) translate(433)">Ralstonia solanacearum</text></g>
<g id="n151"><text class="l" dy="0.3em" transform="rotate(284.607) translate(433)">Bordetella bronchiseptica</text></g>
<g id="n152"><text class="l" dy="0.3em" transform="rotate(286.492) translate(433)">Bordetella parapertussis</text></g>
<g id="n153"><text class="l" dy="0.3em" transform="rotate(288.377) translate(433)">Bordetella pertussis</text></g>
<g id="n154"><text class="l" dy="0.3em" transform="rotate(290.262) translate(433)">Chromobacterium violaceum</text></g>
<g id="n155"><text class="l" dy="0.3em" transform="rotate(292.147) translate(433)">Neisseria meningitidis B</text></g>
<g id="n156"><text class="l" dy="0.3em" transform="rotate(294.031) translate(433)">Neisseria meningitidis A</text></g>
<g id="n157"><text class="l" dy="0.3em" transform="rotate(295.916) translate(433)">Coxiella burnetii</text></g>
<g id="n158"><text class="l" dy="0.3em" transform="rotate(297.801) translate(433)">Xanthomonas campestris</text></g>
<g id="n159"><text class="l" dy="0.3em" transform="rotate(299.686) translate(433)">Xanthomonas axonopodis</text></g>
<g id="n160"><text class="l" dy="0.3em" transform="rotate(301.571) translate(433)">Xylella fastidiosa 9a5c</text></g>
<g id="n161"><text class="l" dy="0.3em" transform="rotate(303.455) translate(433)">Xylella fastidiosa 700964</text></g>
<g id="n162"><text class="l" dy="0.3em" transform="rotate(305.340) translate(433)">Pseudomonas aeruginosa</text></g>
<g id="n163"><text class="l" dy="0.3em" transform="rotate(307.225) translate(433)">Pseudomonas syringae</text></g>
<g id="n164"><text class="l" dy="0.3em" transform="rotate(309.110) translate(433)">Pseudomonas putida</text></g>
<g id="n165"><text class="l" dy="0.3em" transform="rotate(310.995) translate(433)">Shewanella oneidensis</text></g>
<g id="n166"><text class="l" dy="0.3em" transform="rotate(312.880) translate(433)">Photobacterium profundum</text></g>
<g id="n167"><text class="l" dy="0.3em" transform="rotate(314.764) translate(433)">Vibrio cholerae</text></g>
<g id="n168"><text class="l" dy="0.3em" transform="rotate(316.649) translate(433)">Vibrio parahaemolyticus</text></g>
<g id="n169"><text class="l" dy="0.3em" transform="rotate(318.534) translate(433)">Vibrio vulnificus CMCP6</text></g>
<g id="n170"><text class="l" dy="0.3em" transform="rotate(320.419) translate(433)">Vibrio vulnificus YJ016</text></g>
<g id="n171"><text class="l" dy="0.3em" transform="rotate(322.304) translate(433)">Haemophilus ducreyi</text></g>
<g id="n172"><text class="l" dy="0.3em" transform="rotate(324.188) translate(433)">Haemophilus influenzae</text></g>
<g id="n173"><text class="l" dy="0.3em" transform="rotate(326.073) translate(433)">Pasteurella multocida</text></g>
<g id="n174"><text class="l" dy="0.3em" transform="rotate(327.958) translate(433)">Buchnera aphidicola Sg</text></g>
<g id="n175"><text class="l" dy="0.3em" transform="rotate(329.843) translate(433)">Buchnera aphidicola APS</text></g>
<g id="n176"><text class="l" dy="0.3em" transform="rotate(331.728) translate(433)">Buchnera aphidicola Bp</text></g>
<g id="n177"><text class="l" dy="0.3em" transform="rotate(333.613) translate(433)">Wigglesworthia brevipalpis</text></g>
<g id="n178"><text class="l" dy="0.3em" transform="rotate(335.497) translate(433)">Blochmannia floridanus</text></g>
<g id="n179"><text class="l" dy="0.3em" transform="rotate(337.382) translate(433)">Photorhabdus luminescens</text></g>
<g id="n180"><text class="l" dy="0.3em" transform="rotate(339.267) translate(433)">Yersinia pestis CO92</text></g>
<g id="n181"><text class="l" dy="0.3em" transform="rotate(341.152) translate(433)">Yersinia pestis KIM</text></g>
<g id="n182"><text class="l" dy="0.3em" transform="rotate(343.037) translate(433)">Yersinia pestis Medievalis</text></g>
<g id="n183"><text class="l" dy="0.3em" transform="rotate(344.921) translate(433)">Salmonella typhimurium</text></g>
<g id="n184"><text class="l" dy="0.3em" transform="rotate(346.806) translate(433)">Salmonella typhi</text></g>
<g id="n185"><text class="l" dy="0.3em" transform="rotate(348.691) translate(433)">Salmonella enterica</text></g>
<g id="n186"><text class="l" dy="0.3em" transform="rotate(350.576) translate(433)">Shigella flexneri 2a 301</text></g>
<g id="n187"><text class="l" dy="0.3em" transform="rotate(352.461) translate(433)">Shigella flexneri 2a 2457T</text></g>
<g id="n188"><text class="l" dy="0.3em" transform="rotate(354.346) translate(433)">Escherichia coli K12</text></g>
<g id="n189"><text class="l" dy="0.3em" transform="rotate(356.230) translate(433)">Escherichia coli O6</text></g>
<g id="n190"><text class="l" dy="0.3em" transform="rotate(358.115) translate(433)">Escherichia coli O157 H7</text></g>
<g id="n191"><text class="l" dy="0.3em" transform="rotate(360) translate(433)">Escherichia coli EDL933</text></g>
</g>
</svg>
